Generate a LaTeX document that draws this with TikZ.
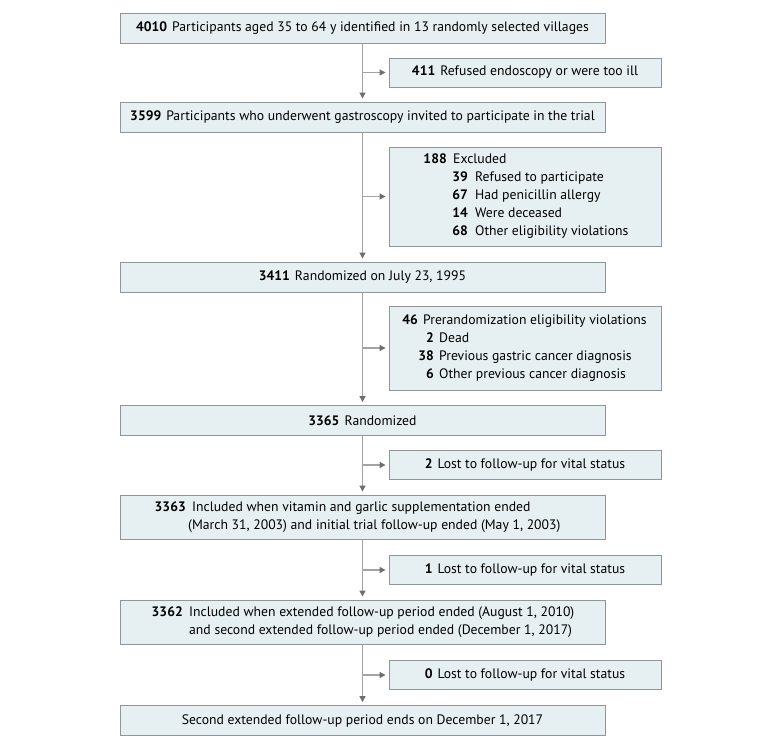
\documentclass[tikz,border=0pt]{standalone}
\usepackage{fontspec}
\setmainfont{PT Sans}
\usetikzlibrary{arrows.meta}
\definecolor{boxfill}{HTML}{E6F0F3}
\definecolor{boxline}{HTML}{8E9699}
\definecolor{linec}{HTML}{A3A3A3}
\definecolor{arrowc}{HTML}{6E6E6E}
\begin{document}
\begin{tikzpicture}[x=1pt,y=-1pt,
  font=\fontsize{13.7}{16}\selectfont,
  mainbox/.style={draw=boxline, fill=boxfill, line width=0.9pt, minimum width=485pt, minimum height=30pt, inner sep=0pt},
  sidebox/.style={draw=boxline, fill=boxfill, line width=0.9pt, minimum width=272pt, minimum height=29pt, inner sep=0pt},
  txt/.style={inner sep=0pt, text height=9.5pt, text depth=3pt},
  conn/.style={draw=linec, line width=1.2pt, -{Triangle[length=6pt,width=6pt,color=arrowc]}, shorten >=3pt}
]
\useasboundingbox (0,0) rectangle (780,748);

% main boxes
\node[mainbox] (b1) at (362.5,28) {\textbf{4010}\hspace{5pt}Participants aged 35 to 64 y identified in 13 randomly selected villages};
\node[mainbox] (b2) at (362.5,117) {\textbf{3599}\hspace{5pt}Participants who underwent gastroscopy invited to participate in the trial};
\node[mainbox] (b3) at (362.5,277) {\textbf{3411}\hspace{5pt}Randomized on July 23, 1995};
\node[mainbox] (b4) at (362.5,420.5) {\textbf{3365}\hspace{5pt}Randomized};
\node[mainbox, minimum height=44pt] (b5) at (362.5,517) {};
\node[mainbox, minimum height=44pt] (b6) at (362.5,622) {};
\node[mainbox] (b7) at (362.5,720.5) {Second extended follow-up period ends on December 1, 2017};

% side boxes
\node[sidebox] (s1) at (525,72.5) {\textbf{411}\hspace{5pt}Refused endoscopy or were too ill};
\node[sidebox, minimum height=99pt] (s2) at (525,196.5) {};
\node[sidebox, minimum height=84pt] (s3) at (525,348) {};
\node[sidebox] (s4) at (525,465) {\textbf{2}\hspace{5pt}Lost to follow-up for vital status};
\node[sidebox] (s5) at (525,570) {\textbf{1}\hspace{5pt}Lost to follow-up for vital status};
\node[sidebox] (s6) at (525,675) {\textbf{0}\hspace{5pt}Lost to follow-up for vital status};

% text in box b5
\node[txt, anchor=east] (b5n) at (186,508) {\textbf{3363}};
\node[txt, anchor=west] (b5a) at (192,508) {Included when vitamin and garlic supplementation ended};
\node[txt, anchor=west] (b5b) at (188,526) {(March 31, 2003) and initial trial follow-up ended (May 1, 2003)};

% text in box b6
\node[txt, anchor=east] (b6n) at (183,613) {\textbf{3362}};
\node[txt, anchor=west] (b6a) at (189,613) {Included when extended follow-up period ended (August 1, 2010)};
\node[txt, anchor=west] (b6b) at (189,631) {and second extended follow-up period ended (December 1, 2017)};

% text in box s2
\node[txt, anchor=east] (s2n0) at (447,160.5) {\textbf{188}};
\node[txt, anchor=west] (s2t0) at (453,160.5) {Excluded};
\node[txt, anchor=east] (s2n1) at (468,178.5) {\textbf{39}};
\node[txt, anchor=west] (s2t1) at (475,178.5) {Refused to participate};
\node[txt, anchor=east] (s2n2) at (468,196.5) {\textbf{67}};
\node[txt, anchor=west] (s2t2) at (475,196.5) {Had penicillin allergy};
\node[txt, anchor=east] (s2n3) at (468,214.5) {\textbf{14}};
\node[txt, anchor=west] (s2t3) at (475,214.5) {Were deceased};
\node[txt, anchor=east] (s2n4) at (468,232.5) {\textbf{68}};
\node[txt, anchor=west] (s2t4) at (475,232.5) {Other eligibility violations};

% text in box s3
\node[txt, anchor=east] (s3n0) at (418,321.5) {\textbf{46}};
\node[txt, anchor=west] (s3t0) at (423,321.5) {Prerandomization eligibility violations};
\node[txt, anchor=east] (s3n1) at (434,339.5) {\textbf{2}};
\node[txt, anchor=west] (s3t1) at (439,339.5) {Dead};
\node[txt, anchor=east] (s3n2) at (434,357.5) {\textbf{38}};
\node[txt, anchor=west] (s3t2) at (439,357.5) {Previous gastric cancer diagnosis};
\node[txt, anchor=east] (s3n3) at (434,375.5) {\textbf{6}};
\node[txt, anchor=west] (s3t3) at (439,375.5) {Other previous cancer diagnosis};

% vertical connectors
\draw[conn] (b1.south) -- (b2.north);
\draw[conn] (b2.south) -- (b3.north);
\draw[conn] (b3.south) -- (b4.north);
\draw[conn] (b4.south) -- (b5.north);
\draw[conn] (b5.south) -- (b6.north);
\draw[conn] (b6.south) -- (b7.north);

% side connectors
\draw[conn] (b1.south |- s1.west) -- (s1.west);
\draw[conn] (b2.south |- s2.west) -- (s2.west);
\draw[conn] (b3.south |- s3.west) -- (s3.west);
\draw[conn] (b4.south |- s4.west) -- (s4.west);
\draw[conn] (b5.south |- s5.west) -- (s5.west);
\draw[conn] (b6.south |- s6.west) -- (s6.west);
\end{tikzpicture}
\end{document}
